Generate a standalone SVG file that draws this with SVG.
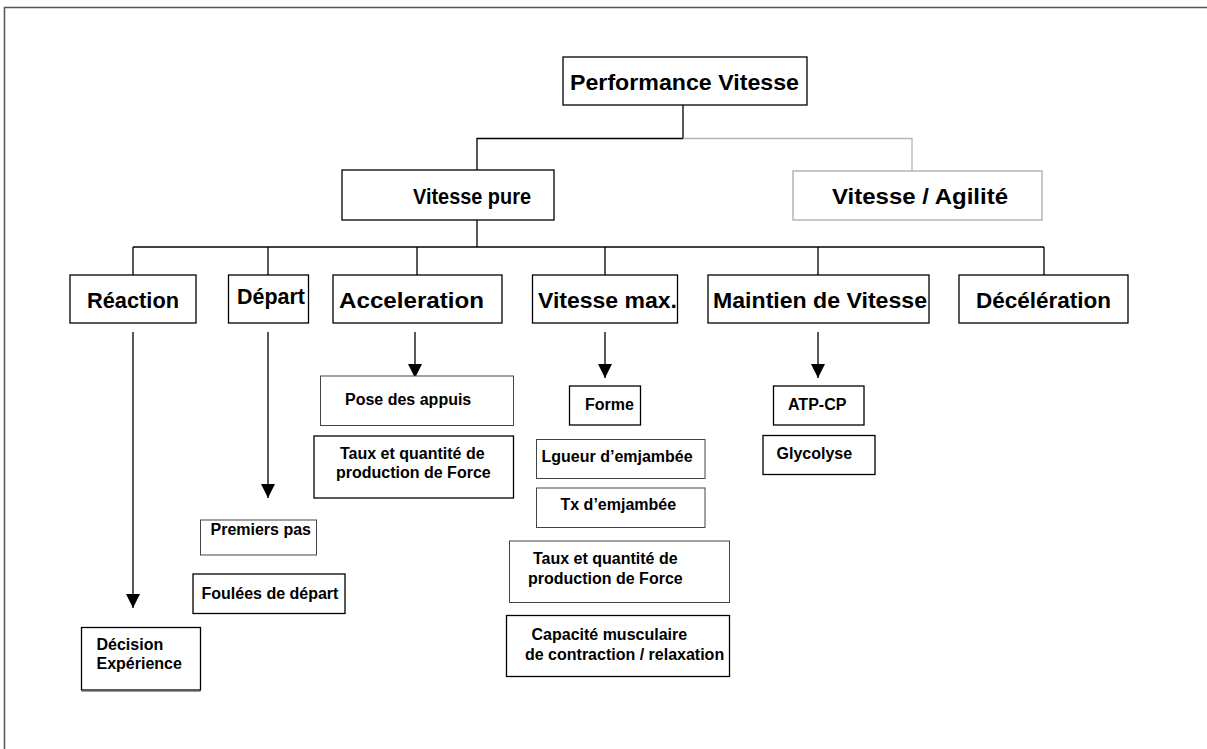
<svg xmlns="http://www.w3.org/2000/svg" width="1207" height="749" viewBox="0 0 1207 749">
  <style>
    .box { fill: #ffffff; stroke: #000000; stroke-width: 1.3; }
    .box-thin { fill: #ffffff; stroke: #444444; stroke-width: 1; }
    .box-grey { fill: #ffffff; stroke: #b4b4b4; stroke-width: 1.5; }
    .head { font-family: "Liberation Sans", Arial, sans-serif; font-weight: bold; font-size: 22px; fill: #000000; }
    .small { font-family: "Liberation Sans", Arial, sans-serif; font-weight: bold; font-size: 16px; fill: #000000; }
    .mid { text-anchor: middle; }
    .link { fill: none; stroke: #000000; stroke-width: 1.3; }
    .link-grey { fill: none; stroke: #b4b4b4; stroke-width: 1.3; }
    .frame { fill: none; stroke: #555555; stroke-width: 1.5; }
  </style>
  <defs>
    <marker id="arrow" viewBox="0 0 14 14" refX="14" refY="7" markerWidth="14" markerHeight="14" markerUnits="userSpaceOnUse" orient="auto">
      <path d="M0,0 L14,7 L0,14 Z" fill="#000000"/>
    </marker>
  </defs>

  <rect width="1207" height="749" fill="#ffffff"/>
  <!-- page frame -->
  <path class="frame" d="M4.5,749 L4.5,7.5 L1207,7.5"/>

  <!-- connectors -->
  <g id="connectors">
    <path class="link" d="M683,105 L683,138.5 L477,138.5 L477,170"/>
    <path class="link-grey" d="M683,138.5 L912,138.5 L912,171"/>
    <path class="link" d="M477,220 L477,247"/>
    <path class="link" d="M133,247 L1044,247"/>
    <path class="link" d="M133,247 V275 M268,247 V275 M417,247 V275 M605,247 V275 M818,247 V275 M1044,247 V275"/>
    <path class="link" d="M133,332 L133,608" marker-end="url(#arrow)"/>
    <path class="link" d="M268,332 L268,498" marker-end="url(#arrow)"/>
    <path class="link" d="M415,332 L415,378" marker-end="url(#arrow)"/>
    <path class="link" d="M605,332 L605,378" marker-end="url(#arrow)"/>
    <path class="link" d="M818,332 L818,378" marker-end="url(#arrow)"/>
  </g>

  <!-- root -->
  <g id="performance-vitesse">
    <rect class="box" x="563" y="57" width="244" height="48"/>
    <text class="head" x="570" y="90" textLength="229" lengthAdjust="spacingAndGlyphs">Performance Vitesse</text>
  </g>

  <!-- first level -->
  <g id="vitesse-pure">
    <rect class="box" x="342" y="170" width="212" height="50"/>
    <text class="head mid" x="472" y="204" textLength="118" lengthAdjust="spacingAndGlyphs">Vitesse pure</text>
  </g>
  <g id="vitesse-agilite">
    <rect class="box-grey" x="793" y="171" width="249" height="49"/>
    <text class="head" x="832" y="204" textLength="176" lengthAdjust="spacingAndGlyphs">Vitesse / Agilité</text>
  </g>

  <!-- second level -->
  <g id="reaction">
    <rect class="box" x="70" y="275" width="126" height="48"/>
    <text class="head" x="87" y="308" textLength="92" lengthAdjust="spacingAndGlyphs">Réaction</text>
  </g>
  <g id="depart">
    <rect class="box" x="228.5" y="275" width="80" height="48"/>
    <text class="head" x="237" y="304" textLength="68" lengthAdjust="spacingAndGlyphs">Départ</text>
  </g>
  <g id="acceleration">
    <rect class="box" x="333" y="275" width="169" height="48"/>
    <text class="head" x="339" y="308" textLength="145" lengthAdjust="spacingAndGlyphs">Acceleration</text>
  </g>
  <g id="vitesse-max">
    <rect class="box" x="532.5" y="275" width="145" height="48"/>
    <text class="head" x="538" y="308" textLength="139" lengthAdjust="spacingAndGlyphs">Vitesse max.</text>
  </g>
  <g id="maintien">
    <rect class="box" x="708" y="275" width="221" height="48"/>
    <text class="head" x="713" y="308" textLength="214" lengthAdjust="spacingAndGlyphs">Maintien de Vitesse</text>
  </g>
  <g id="deceleration">
    <rect class="box" x="959" y="275" width="169" height="48"/>
    <text class="head" x="976" y="308" textLength="135" lengthAdjust="spacingAndGlyphs">Décélération</text>
  </g>

  <!-- Acceleration details -->
  <g id="pose-appuis">
    <rect class="box-thin" x="320.5" y="376" width="193" height="49.5"/>
    <text class="small" x="345" y="405">Pose des appuis</text>
  </g>
  <g id="taux-force-1">
    <rect class="box" x="314" y="436" width="199.5" height="62"/>
    <text class="small" x="340" y="459">Taux et quantité de</text>
    <text class="small" x="336" y="478">production de Force</text>
  </g>

  <!-- Vitesse max. details -->
  <g id="forme">
    <rect class="box" x="569.5" y="386" width="71" height="39"/>
    <text class="small" x="585" y="410">Forme</text>
  </g>
  <g id="longueur-emjambee">
    <rect class="box-thin" x="536.5" y="439.5" width="168.5" height="39"/>
    <text class="small" x="541.5" y="462">Lgueur d’emjambée</text>
  </g>
  <g id="taux-emjambee">
    <rect class="box-thin" x="536.5" y="488" width="168.5" height="39.5"/>
    <text class="small" x="560.5" y="510">Tx d’emjambée</text>
  </g>
  <g id="taux-force-2">
    <rect class="box-thin" x="509.5" y="541" width="220" height="61.5"/>
    <text class="small" x="533" y="564">Taux et quantité de</text>
    <text class="small" x="528" y="583.5">production de Force</text>
  </g>
  <g id="capacite-musculaire">
    <rect class="box" x="506.5" y="615.5" width="223" height="61"/>
    <text class="small" x="531.5" y="640">Capacité musculaire</text>
    <text class="small" x="525" y="660">de contraction / relaxation</text>
  </g>

  <!-- Maintien de Vitesse details -->
  <g id="atp-cp">
    <rect class="box" x="773.5" y="386" width="90.5" height="39"/>
    <text class="small" x="788" y="410">ATP-CP</text>
  </g>
  <g id="glycolyse">
    <rect class="box" x="763" y="435.5" width="112" height="39"/>
    <text class="small" x="776.5" y="459">Glycolyse</text>
  </g>

  <!-- Départ details -->
  <g id="premiers-pas">
    <rect class="box-thin" x="200.5" y="520" width="116" height="35"/>
    <text class="small" x="210.5" y="535">Premiers pas</text>
  </g>
  <g id="foulees-depart">
    <rect class="box" x="193" y="574" width="152" height="39.5"/>
    <text class="small" x="201.5" y="599">Foulées de départ</text>
  </g>

  <!-- Réaction details -->
  <g id="decision-experience">
    <rect class="box" x="81.5" y="627.5" width="119" height="62.5"/>
    <path d="M81.5,691.5 L200.5,691.5" stroke="#9a9a9a" stroke-width="1"/>
    <text class="small" x="96.5" y="650">Décision</text>
    <text class="small" x="96.5" y="669">Expérience</text>
  </g>
</svg>
